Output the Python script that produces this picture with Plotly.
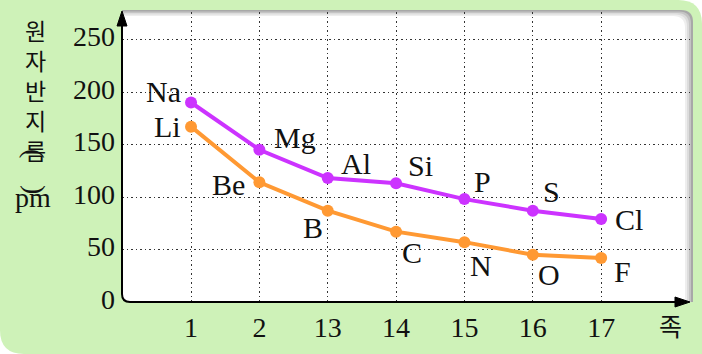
import plotly.graph_objects as go

groups = ["1", "2", "13", "14", "15", "16", "17"]
period3_names = ["Na", "Mg", "Al", "Si", "P", "S", "Cl"]
period3_radii = [190, 145, 118, 113, 98, 87, 79]
period2_names = ["Li", "Be", "B", "C", "N", "O", "F"]
period2_radii = [167, 114, 87, 67, 57, 45, 42]
y_ticks = [0, 50, 100, 150, 200, 250]

PURPLE = "#CC33FF"
ORANGE = "#FF9933"
GREEN = "#CEF2B8"
SERIF = "Liberation Serif, Times New Roman, serif"
KFONT = "Noto Sans CJK KR"

W, H = 702, 354
L, R, T, B = 122, 12, 12, 52
PW, PH = W - L - R, H - T - B

def px(x):
    return (x - L) / PW

def py(y):
    return (H - B - y) / PH

def path(cmds):
    out = []
    for c in cmds:
        if isinstance(c, str):
            out.append(c)
        else:
            out.append(f"{px(c[0]):.5f},{py(c[1]):.5f}")
    return " ".join(out)

def rrect(x0, y0, x1, y1, tl=0, tr=0, br=0, bl=0):
    return path([
        "M", (x0 + tl, y0),
        "L", (x1 - tr, y0),
        "Q", (x1, y0), (x1, y0 + tr),
        "L", (x1, y1 - br),
        "Q", (x1, y1), (x1 - br, y1),
        "L", (x0 + bl, y1),
        "Q", (x0, y1), (x0, y1 - bl),
        "L", (x0, y0 + tl),
        "Q", (x0, y0), (x0 + tl, y0),
        "Z",
    ])

xs = list(range(len(groups)))

fig = go.Figure()
for names, vals, col in [(period3_names, period3_radii, PURPLE), (period2_names, period2_radii, ORANGE)]:
    fig.add_trace(go.Scatter(
        x=xs, y=vals, mode="lines+markers",
        line=dict(color=col, width=4),
        marker=dict(color=col, size=12),
        hoverinfo="skip", showlegend=False,
    ))

shapes = []
# outer green panel
shapes.append(dict(type="path", xref="paper", yref="paper", layer="below",
                   path=rrect(0, 0, W, H, tl=0, tr=24, br=0, bl=24),
                   fillcolor=GREEN, line=dict(width=0)))
# white plot box with shading
for (dx, dy, col) in [(693, 10, "#a8a8a8"), (691, 11.5, "#c4c4c4"), (689, 13, "#dcdcdc"),
                      (687, 14.5, "#eeeeee"), (685, 16, "#ffffff")]:
    shapes.append(dict(type="path", xref="paper", yref="paper", layer="below",
                       path=rrect(122, dy, dx, 302, tl=0, tr=12, br=0, bl=8),
                       fillcolor=col, line=dict(width=0)))
# axes lines
shapes.append(dict(type="path", xref="paper", yref="paper", layer="above",
                   path=path(["M", (122, 22), "L", (122, 294), "Q", (122, 302), (130, 302), "L", (680, 302)]),
                   line=dict(color="black", width=2)))
shapes.append(dict(type="path", xref="paper", yref="paper", layer="above",
                   path=path(["M", (117, 26), "L", (122, 11), "L", (127, 26), "Z"]),
                   fillcolor="black", line=dict(color="black", width=1)))
shapes.append(dict(type="path", xref="paper", yref="paper", layer="above",
                   path=path(["M", (675, 297), "L", (690, 302), "L", (675, 307), "Z"]),
                   fillcolor="black", line=dict(color="black", width=1)))

annotations = []
p3_off = [("right", -8, 11), ("left", 13, 12), ("left", 11, 15), ("left", 10, 18),
          ("left", 8, 18), ("left", 8, 19), ("left", 12, 0)]
p2_off = [("right", -8, 0), ("right", -12, -2), ("right", -3, -17), ("left", 4, -21),
          ("left", 4, -23), ("left", 3, -20), ("left", 11, -14)]
for names, vals, offs in [(period3_names, period3_radii, p3_off), (period2_names, period2_radii, p2_off)]:
    for i, (n, v) in enumerate(zip(names, vals)):
        xa, sx, sy = offs[i]
        annotations.append(dict(x=xs[i], y=v, xref="x", yref="y", text=n, showarrow=False,
                                xanchor=xa, yanchor="middle", xshift=sx, yshift=sy,
                                font=dict(family=SERIF, size=30, color="#111")))

# y title (vertical Korean)
annotations.append(dict(x=px(35), y=py(11), xref="paper", yref="paper",
                        text="원<br>자<br>반<br>지<br>름",
                        showarrow=False, xanchor="center", yanchor="top", align="center",
                        font=dict(family=KFONT, size=23, color="#111")))
annotations.append(dict(x=px(35), y=py(153), xref="paper", yref="paper", text="(", textangle=90,
                        showarrow=False, xanchor="center", yanchor="middle",
                        font=dict(family=SERIF, size=28, color="#111")))
annotations.append(dict(x=px(33), y=py(197), xref="paper", yref="paper", text="pm",
                        showarrow=False, xanchor="center", yanchor="middle",
                        font=dict(family=SERIF, size=28, color="#111")))
annotations.append(dict(x=px(36), y=py(189), xref="paper", yref="paper", text=")", textangle=90,
                        showarrow=False, xanchor="center", yanchor="middle",
                        font=dict(family=SERIF, size=28, color="#111")))
annotations.append(dict(x=px(670), y=py(325), xref="paper", yref="paper", text="족",
                        showarrow=False, xanchor="center", yanchor="middle",
                        font=dict(family=KFONT, size=25, color="#111")))

grid = dict(showgrid=True, gridcolor="#333333", gridwidth=1.2, griddash="1.5px,3px",
            zeroline=False, showline=False, ticks="")

fig.update_layout(
    width=W, height=H,
    margin=dict(l=L, r=R, t=T, b=B),
    paper_bgcolor="white", plot_bgcolor="rgba(0,0,0,0)",
    shapes=shapes, annotations=annotations,
    xaxis=dict(range=[-1.01, 7.30], tickvals=xs, ticktext=groups,
               tickfont=dict(family=SERIF, size=28, color="#111"), ticklabelstandoff=6, **grid),
    yaxis=dict(range=[0, 276.2], tickvals=y_ticks,
               tickfont=dict(family=SERIF, size=28, color="#111"), ticklabelstandoff=6,
               ticklabelshift=-3, **grid),
)

fig.write_html("out.html")
